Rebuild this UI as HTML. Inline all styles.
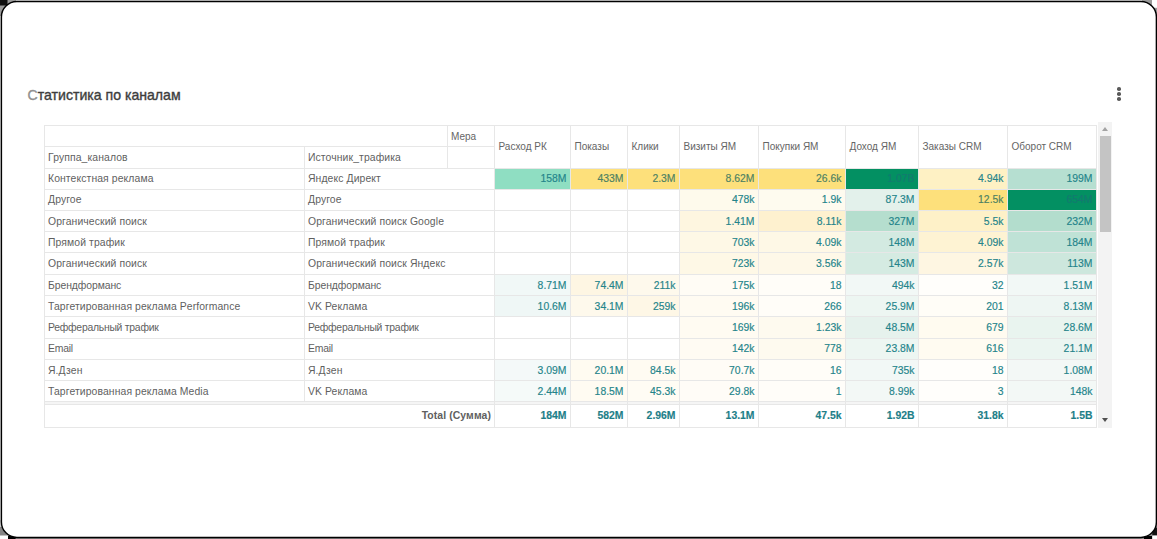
<!DOCTYPE html>
<html><head><meta charset="utf-8"><style>
*{margin:0;padding:0;box-sizing:border-box}
html,body{width:1157px;height:539px;overflow:hidden;background:#fff;font-family:"Liberation Sans",sans-serif}
.a{position:absolute}
.title{position:absolute;left:27.6px;top:86.6px;font-size:14.1px;font-weight:normal;-webkit-text-stroke:0.35px #3d3d3d;color:#3d3d3d;white-space:nowrap;letter-spacing:0}
.dot{position:absolute;width:3.6px;height:3.6px;border-radius:50%;background:#5a5a5a}
.t{position:absolute;font-size:10.4px;color:#5f5f5f;letter-spacing:0.1px;white-space:nowrap;line-height:12px}
.h{position:absolute;font-size:10px;color:#656565;white-space:nowrap;line-height:12px}
.n{position:absolute;font-size:10.4px;color:#23848a;-webkit-text-stroke:0.15px #23848a;white-space:nowrap;line-height:12px;text-align:right}
.b{font-weight:bold;color:#1d7e88}
.hl{position:absolute;height:1px;background:#e7e7e7}
.vl{position:absolute;width:1px;background:#e7e7e7}
</style></head><body>

<svg class="a" style="left:0;top:0" width="1157" height="539" viewBox="0 0 1157 539">
<rect x="0" y="0" width="1157" height="539" fill="#fff"/>
<rect x="0" y="0" width="1157" height="0.8" fill="#e2e2e2"/>
<rect x="0" y="0" width="0.7" height="539" fill="#e2e2e2"/>
<rect x="0" y="538.1" width="1157" height="0.9" fill="#808080"/>
<rect x="0" y="0" width="16" height="16" fill="#9a9a9a"/>
<rect x="0" y="0" width="7.5" height="5.5" fill="#111"/>
<rect x="1142" y="0" width="15" height="16" fill="#9a9a9a"/>
<rect x="1152" y="0" width="5" height="7.8" fill="#fff"/>
<rect x="0" y="520" width="16" height="8" fill="#c8c8c8"/>
<rect x="0" y="527" width="16" height="12" fill="#858585"/>
<rect x="0" y="535.5" width="8" height="3.5" fill="#fff"/>
<rect x="8" y="536" width="7.6" height="3" fill="#000"/>
<rect x="1141" y="522" width="16" height="17" fill="#8a8a8a"/>
<rect x="1152.3" y="527.6" width="5" height="8" fill="#111"/>
<rect x="1152.3" y="535.5" width="5" height="3.5" fill="#fff"/>
<rect x="1144" y="536" width="8" height="3" fill="#000"/>
<rect x="1.4" y="1.45" width="1155" height="535.95" rx="15.5" ry="15.5" fill="#fff" stroke="#000" stroke-width="1.45"/>
</svg>
<div class="title"><span style="color:#909090;-webkit-text-stroke-color:#909090">С</span>татистика по каналам</div>
<div class="dot" style="left:1117.2px;top:87.1px"></div>
<div class="dot" style="left:1117.2px;top:92.1px"></div>
<div class="dot" style="left:1117.2px;top:97.3px"></div>
<div class="a" style="left:494px;top:168px;width:77px;height:22px;background:#8fdec2"></div>
<div class="a" style="left:570px;top:168px;width:58px;height:22px;background:#fde07b"></div>
<div class="a" style="left:627px;top:168px;width:53px;height:22px;background:#fde07b"></div>
<div class="a" style="left:679px;top:168px;width:80px;height:22px;background:#fde07b"></div>
<div class="a" style="left:758px;top:168px;width:88px;height:22px;background:#fde07b"></div>
<div class="a" style="left:845px;top:168px;width:74px;height:22px;background:#039062"></div>
<div class="a" style="left:918px;top:168px;width:90px;height:22px;background:#fef1c4"></div>
<div class="a" style="left:1007px;top:168px;width:90px;height:22px;background:#b6dfd1"></div>
<div class="a" style="left:679px;top:189px;width:80px;height:22px;background:#fefaec"></div>
<div class="a" style="left:758px;top:189px;width:88px;height:22px;background:#fefbef"></div>
<div class="a" style="left:845px;top:189px;width:74px;height:22px;background:#e3f1eb"></div>
<div class="a" style="left:918px;top:189px;width:90px;height:22px;background:#fde07b"></div>
<div class="a" style="left:1007px;top:189px;width:90px;height:22px;background:#039062"></div>
<div class="a" style="left:679px;top:210px;width:80px;height:22px;background:#fef6e0"></div>
<div class="a" style="left:758px;top:210px;width:88px;height:22px;background:#fef1cf"></div>
<div class="a" style="left:845px;top:210px;width:74px;height:22px;background:#b5dece"></div>
<div class="a" style="left:918px;top:210px;width:90px;height:22px;background:#fef1c8"></div>
<div class="a" style="left:1007px;top:210px;width:90px;height:22px;background:#b3ddcd"></div>
<div class="a" style="left:679px;top:231px;width:80px;height:22px;background:#fef8e6"></div>
<div class="a" style="left:758px;top:231px;width:88px;height:22px;background:#fef8e6"></div>
<div class="a" style="left:845px;top:231px;width:74px;height:22px;background:#d3eae1"></div>
<div class="a" style="left:918px;top:231px;width:90px;height:22px;background:#fef3d3"></div>
<div class="a" style="left:1007px;top:231px;width:90px;height:22px;background:#bfe2d6"></div>
<div class="a" style="left:679px;top:252px;width:80px;height:23px;background:#fef8e6"></div>
<div class="a" style="left:758px;top:252px;width:88px;height:23px;background:#fef8e8"></div>
<div class="a" style="left:845px;top:252px;width:74px;height:23px;background:#d5ebe2"></div>
<div class="a" style="left:918px;top:252px;width:90px;height:23px;background:#fef6e2"></div>
<div class="a" style="left:1007px;top:252px;width:90px;height:23px;background:#cde7dd"></div>
<div class="a" style="left:494px;top:274px;width:77px;height:22px;background:#f1f8f7"></div>
<div class="a" style="left:570px;top:274px;width:58px;height:22px;background:#fef6e3"></div>
<div class="a" style="left:627px;top:274px;width:53px;height:22px;background:#fef9ec"></div>
<div class="a" style="left:679px;top:274px;width:80px;height:22px;background:#fffcf5"></div>
<div class="a" style="left:758px;top:274px;width:88px;height:22px;background:#fffdf8"></div>
<div class="a" style="left:845px;top:274px;width:74px;height:22px;background:#f2f8f6"></div>
<div class="a" style="left:918px;top:274px;width:90px;height:22px;background:#fffefb"></div>
<div class="a" style="left:1007px;top:274px;width:90px;height:22px;background:#f2f8f6"></div>
<div class="a" style="left:494px;top:295px;width:77px;height:22px;background:#eff7f6"></div>
<div class="a" style="left:570px;top:295px;width:58px;height:22px;background:#fef9ec"></div>
<div class="a" style="left:627px;top:295px;width:53px;height:22px;background:#fef7e6"></div>
<div class="a" style="left:679px;top:295px;width:80px;height:22px;background:#fffbf2"></div>
<div class="a" style="left:758px;top:295px;width:88px;height:22px;background:#fffdf8"></div>
<div class="a" style="left:845px;top:295px;width:74px;height:22px;background:#edf6f2"></div>
<div class="a" style="left:918px;top:295px;width:90px;height:22px;background:#fffdf7"></div>
<div class="a" style="left:1007px;top:295px;width:90px;height:22px;background:#eef6f3"></div>
<div class="a" style="left:679px;top:316px;width:80px;height:23px;background:#fffbf2"></div>
<div class="a" style="left:758px;top:316px;width:88px;height:23px;background:#fefaef"></div>
<div class="a" style="left:845px;top:316px;width:74px;height:23px;background:#e6f2ed"></div>
<div class="a" style="left:918px;top:316px;width:90px;height:23px;background:#fffbf0"></div>
<div class="a" style="left:1007px;top:316px;width:90px;height:23px;background:#e9f4ef"></div>
<div class="a" style="left:679px;top:338px;width:80px;height:22px;background:#fffbf3"></div>
<div class="a" style="left:758px;top:338px;width:88px;height:22px;background:#fefaef"></div>
<div class="a" style="left:845px;top:338px;width:74px;height:22px;background:#edf6f2"></div>
<div class="a" style="left:918px;top:338px;width:90px;height:22px;background:#fffbf1"></div>
<div class="a" style="left:1007px;top:338px;width:90px;height:22px;background:#ebf5f1"></div>
<div class="a" style="left:494px;top:359px;width:77px;height:22px;background:#f4f9f9"></div>
<div class="a" style="left:570px;top:359px;width:58px;height:22px;background:#fffbf1"></div>
<div class="a" style="left:627px;top:359px;width:53px;height:22px;background:#fffbf2"></div>
<div class="a" style="left:679px;top:359px;width:80px;height:22px;background:#fffcf6"></div>
<div class="a" style="left:758px;top:359px;width:88px;height:22px;background:#fffdf8"></div>
<div class="a" style="left:845px;top:359px;width:74px;height:22px;background:#f2f8f6"></div>
<div class="a" style="left:918px;top:359px;width:90px;height:22px;background:#fffefb"></div>
<div class="a" style="left:1007px;top:359px;width:90px;height:22px;background:#f3f8f6"></div>
<div class="a" style="left:494px;top:380px;width:77px;height:22px;background:#f5faf9"></div>
<div class="a" style="left:570px;top:380px;width:58px;height:22px;background:#fffbf2"></div>
<div class="a" style="left:627px;top:380px;width:53px;height:22px;background:#fffcf4"></div>
<div class="a" style="left:679px;top:380px;width:80px;height:22px;background:#fffcf7"></div>
<div class="a" style="left:758px;top:380px;width:88px;height:22px;background:#fffdf9"></div>
<div class="a" style="left:845px;top:380px;width:74px;height:22px;background:#f3f8f6"></div>
<div class="a" style="left:918px;top:380px;width:90px;height:22px;background:#fffefb"></div>
<div class="a" style="left:1007px;top:380px;width:90px;height:22px;background:#f3f8f6"></div>
<div class="hl" style="left:44.0px;top:125.0px;width:1053.0px"></div>
<div class="hl" style="left:44.0px;top:146.0px;width:450.0px"></div>
<div class="hl" style="left:44.0px;top:168.0px;width:1053.0px"></div>
<div class="hl" style="left:44.0px;top:189.0px;width:1053.0px"></div>
<div class="hl" style="left:44.0px;top:210.0px;width:1053.0px"></div>
<div class="hl" style="left:44.0px;top:231.0px;width:1053.0px"></div>
<div class="hl" style="left:44.0px;top:252.0px;width:1053.0px"></div>
<div class="hl" style="left:44.0px;top:274.0px;width:1053.0px"></div>
<div class="hl" style="left:44.0px;top:295.0px;width:1053.0px"></div>
<div class="hl" style="left:44.0px;top:316.0px;width:1053.0px"></div>
<div class="hl" style="left:44.0px;top:338.0px;width:1053.0px"></div>
<div class="hl" style="left:44.0px;top:359.0px;width:1053.0px"></div>
<div class="hl" style="left:44.0px;top:380.0px;width:1053.0px"></div>
<div class="hl" style="left:44.0px;top:401.0px;width:1053.0px"></div>
<div class="hl" style="left:44.0px;top:427.0px;width:1053.0px"></div>
<div class="hl" style="left:44.0px;top:404.0px;width:1053.0px"></div>
<div class="a" style="left:44.0px;top:402.0px;width:1052.0px;height:2.0px;background:#f5f5f5"></div>
<div class="vl" style="left:44.0px;top:125.0px;height:302.0px"></div>
<div class="vl" style="left:304.0px;top:146.0px;height:255.0px"></div>
<div class="vl" style="left:447.0px;top:125.0px;height:43.0px"></div>
<div class="vl" style="left:494.0px;top:125.0px;height:302.0px"></div>
<div class="vl" style="left:570.0px;top:125.0px;height:302.0px"></div>
<div class="vl" style="left:627.0px;top:125.0px;height:302.0px"></div>
<div class="vl" style="left:679.0px;top:125.0px;height:302.0px"></div>
<div class="vl" style="left:758.0px;top:125.0px;height:302.0px"></div>
<div class="vl" style="left:845.0px;top:125.0px;height:302.0px"></div>
<div class="vl" style="left:918.0px;top:125.0px;height:302.0px"></div>
<div class="vl" style="left:1007.0px;top:125.0px;height:302.0px"></div>
<div class="vl" style="left:1096.0px;top:125.0px;height:302.0px"></div>
<div class="h" style="left:451.0px;top:130.7px;">Мера</div>
<div class="t" style="left:48.0px;top:151.7px;">Группа_каналов</div>
<div class="t" style="left:308.0px;top:151.7px;">Источник_трафика</div>
<div class="h" style="left:498.5px;top:141.2px;">Расход РК</div>
<div class="h" style="left:574.5px;top:141.2px;">Показы</div>
<div class="h" style="left:631.5px;top:141.2px;">Клики</div>
<div class="h" style="left:683.5px;top:141.2px;">Визиты ЯМ</div>
<div class="h" style="left:762.5px;top:141.2px;">Покупки ЯМ</div>
<div class="h" style="left:849.5px;top:141.2px;">Доход ЯМ</div>
<div class="h" style="left:922.5px;top:141.2px;">Заказы CRM</div>
<div class="h" style="left:1011.5px;top:141.2px;">Оборот CRM</div>
<div class="t" style="left:48.0px;top:172.7px;">Контекстная реклама</div>
<div class="t" style="left:308.0px;top:172.7px;">Яндекс Директ</div>
<div class="n" style="right:590.5px;top:172.7px;">158M</div>
<div class="n" style="right:533.5px;top:172.7px;color:#4c8062;-webkit-text-stroke-color:#4c8062;">433M</div>
<div class="n" style="right:481.5px;top:172.7px;color:#4c8062;-webkit-text-stroke-color:#4c8062;">2.3M</div>
<div class="n" style="right:402.5px;top:172.7px;color:#4c8062;-webkit-text-stroke-color:#4c8062;">8.62M</div>
<div class="n" style="right:315.5px;top:172.7px;color:#4c8062;-webkit-text-stroke-color:#4c8062;">26.6k</div>
<div class="n" style="right:242.5px;top:172.7px;color:#137a70;-webkit-text-stroke-color:#137a70;">1.07B</div>
<div class="n" style="right:153.5px;top:172.7px;">4.94k</div>
<div class="n" style="right:64.5px;top:172.7px;">199M</div>
<div class="t" style="left:48.0px;top:194.2px;">Другое</div>
<div class="t" style="left:308.0px;top:194.2px;">Другое</div>
<div class="n" style="right:402.5px;top:194.2px;">478k</div>
<div class="n" style="right:315.5px;top:194.2px;">1.9k</div>
<div class="n" style="right:242.5px;top:194.2px;">87.3M</div>
<div class="n" style="right:153.5px;top:194.2px;color:#4c8062;-webkit-text-stroke-color:#4c8062;">12.5k</div>
<div class="n" style="right:64.5px;top:194.2px;color:#137a70;-webkit-text-stroke-color:#137a70;">654M</div>
<div class="t" style="left:48.0px;top:215.7px;">Органический поиск</div>
<div class="t" style="left:308.0px;top:215.7px;">Органический поиск Google</div>
<div class="n" style="right:402.5px;top:215.7px;">1.41M</div>
<div class="n" style="right:315.5px;top:215.7px;">8.11k</div>
<div class="n" style="right:242.5px;top:215.7px;">327M</div>
<div class="n" style="right:153.5px;top:215.7px;">5.5k</div>
<div class="n" style="right:64.5px;top:215.7px;">232M</div>
<div class="t" style="left:48.0px;top:236.7px;">Прямой трафик</div>
<div class="t" style="left:308.0px;top:236.7px;">Прямой трафик</div>
<div class="n" style="right:402.5px;top:236.7px;">703k</div>
<div class="n" style="right:315.5px;top:236.7px;">4.09k</div>
<div class="n" style="right:242.5px;top:236.7px;">148M</div>
<div class="n" style="right:153.5px;top:236.7px;">4.09k</div>
<div class="n" style="right:64.5px;top:236.7px;">184M</div>
<div class="t" style="left:48.0px;top:258.2px;">Органический поиск</div>
<div class="t" style="left:308.0px;top:258.2px;">Органический поиск Яндекс</div>
<div class="n" style="right:402.5px;top:258.2px;">723k</div>
<div class="n" style="right:315.5px;top:258.2px;">3.56k</div>
<div class="n" style="right:242.5px;top:258.2px;">143M</div>
<div class="n" style="right:153.5px;top:258.2px;">2.57k</div>
<div class="n" style="right:64.5px;top:258.2px;">113M</div>
<div class="t" style="left:48.0px;top:279.7px;letter-spacing:-0.08px;">Брендформанс</div>
<div class="t" style="left:308.0px;top:279.7px;letter-spacing:-0.08px;">Брендформанс</div>
<div class="n" style="right:590.5px;top:279.7px;">8.71M</div>
<div class="n" style="right:533.5px;top:279.7px;">74.4M</div>
<div class="n" style="right:481.5px;top:279.7px;">211k</div>
<div class="n" style="right:402.5px;top:279.7px;">175k</div>
<div class="n" style="right:315.5px;top:279.7px;">18</div>
<div class="n" style="right:242.5px;top:279.7px;">494k</div>
<div class="n" style="right:153.5px;top:279.7px;">32</div>
<div class="n" style="right:64.5px;top:279.7px;">1.51M</div>
<div class="t" style="left:48.0px;top:300.7px;">Таргетированная реклама Performance</div>
<div class="t" style="left:308.0px;top:300.7px;">VK Реклама</div>
<div class="n" style="right:590.5px;top:300.7px;">10.6M</div>
<div class="n" style="right:533.5px;top:300.7px;">34.1M</div>
<div class="n" style="right:481.5px;top:300.7px;">259k</div>
<div class="n" style="right:402.5px;top:300.7px;">196k</div>
<div class="n" style="right:315.5px;top:300.7px;">266</div>
<div class="n" style="right:242.5px;top:300.7px;">25.9M</div>
<div class="n" style="right:153.5px;top:300.7px;">201</div>
<div class="n" style="right:64.5px;top:300.7px;">8.13M</div>
<div class="t" style="left:48.0px;top:321.7px;letter-spacing:-0.25px;">Рефферальный трафик</div>
<div class="t" style="left:308.0px;top:321.7px;letter-spacing:-0.25px;">Рефферальный трафик</div>
<div class="n" style="right:402.5px;top:321.7px;">169k</div>
<div class="n" style="right:315.5px;top:321.7px;">1.23k</div>
<div class="n" style="right:242.5px;top:321.7px;">48.5M</div>
<div class="n" style="right:153.5px;top:321.7px;">679</div>
<div class="n" style="right:64.5px;top:321.7px;">28.6M</div>
<div class="t" style="left:48.0px;top:343.2px;letter-spacing:-0.2px;">Email</div>
<div class="t" style="left:308.0px;top:343.2px;letter-spacing:-0.2px;">Email</div>
<div class="n" style="right:402.5px;top:343.2px;">142k</div>
<div class="n" style="right:315.5px;top:343.2px;">778</div>
<div class="n" style="right:242.5px;top:343.2px;">23.8M</div>
<div class="n" style="right:153.5px;top:343.2px;">616</div>
<div class="n" style="right:64.5px;top:343.2px;">21.1M</div>
<div class="t" style="left:48.0px;top:364.7px;">Я.Дзен</div>
<div class="t" style="left:308.0px;top:364.7px;">Я.Дзен</div>
<div class="n" style="right:590.5px;top:364.7px;">3.09M</div>
<div class="n" style="right:533.5px;top:364.7px;">20.1M</div>
<div class="n" style="right:481.5px;top:364.7px;">84.5k</div>
<div class="n" style="right:402.5px;top:364.7px;">70.7k</div>
<div class="n" style="right:315.5px;top:364.7px;">16</div>
<div class="n" style="right:242.5px;top:364.7px;">735k</div>
<div class="n" style="right:153.5px;top:364.7px;">18</div>
<div class="n" style="right:64.5px;top:364.7px;">1.08M</div>
<div class="t" style="left:48.0px;top:385.7px;">Таргетированная реклама Media</div>
<div class="t" style="left:308.0px;top:385.7px;">VK Реклама</div>
<div class="n" style="right:590.5px;top:385.7px;">2.44M</div>
<div class="n" style="right:533.5px;top:385.7px;">18.5M</div>
<div class="n" style="right:481.5px;top:385.7px;">45.3k</div>
<div class="n" style="right:402.5px;top:385.7px;">29.8k</div>
<div class="n" style="right:315.5px;top:385.7px;">1</div>
<div class="n" style="right:242.5px;top:385.7px;">8.99k</div>
<div class="n" style="right:153.5px;top:385.7px;">3</div>
<div class="n" style="right:64.5px;top:385.7px;">148k</div>
<div class="t" style="right:666.0px;top:410.0px;font-weight:bold;color:#606060">Total (Сумма)</div>
<div class="n b" style="right:590.5px;top:410.0px">184M</div>
<div class="n b" style="right:533.5px;top:410.0px">582M</div>
<div class="n b" style="right:481.5px;top:410.0px">2.96M</div>
<div class="n b" style="right:402.5px;top:410.0px">13.1M</div>
<div class="n b" style="right:315.5px;top:410.0px">47.5k</div>
<div class="n b" style="right:242.5px;top:410.0px">1.92B</div>
<div class="n b" style="right:153.5px;top:410.0px">31.8k</div>
<div class="n b" style="right:64.5px;top:410.0px">1.5B</div>
<div class="a" style="left:1097.5px;top:122px;width:14.5px;height:305.6px;background:#f3f3f3"></div>
<div class="a" style="left:1100px;top:136px;width:10.8px;height:95.5px;background:#c4c4c4"></div>
<div class="a" style="left:1101.5px;top:126.5px;width:0;height:0;border-left:3.5px solid transparent;border-right:3.5px solid transparent;border-bottom:4px solid #a3a3a3"></div>
<div class="a" style="left:1101.5px;top:418px;width:0;height:0;border-left:3.5px solid transparent;border-right:3.5px solid transparent;border-top:4px solid #505050"></div>
</body></html>
